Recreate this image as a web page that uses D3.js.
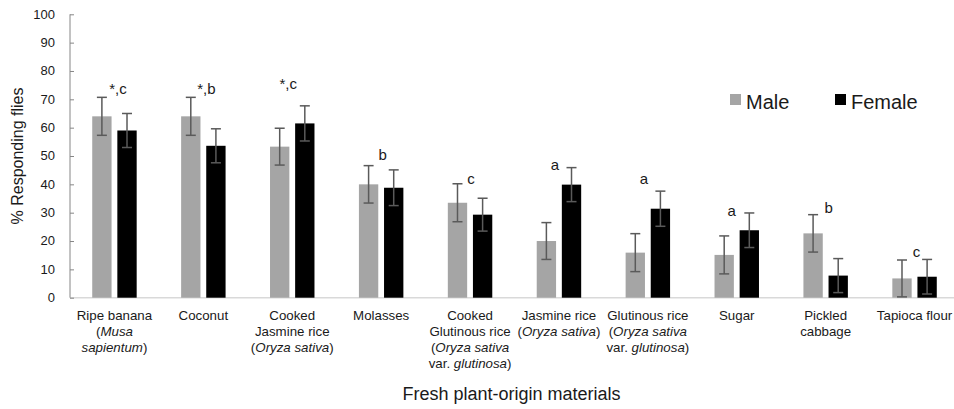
<!DOCTYPE html>
<html>
<head>
<meta charset="utf-8">
<script src="https://cdn.jsdelivr.net/npm/d3@7"></script>
<style>
  html, body { margin: 0; padding: 0; background: #fff; }
  svg { display: block; font-family: "Liberation Sans", Arial, sans-serif; }
</style>
</head>
<body>
<svg id="chart" width="954" height="409"></svg>
<script>
// Response of flies to fresh plant-origin materials (% responding, mean ± error)
const categories = [
  "Ripe banana", "Coconut", "Cooked Jasmine rice", "Molasses",
  "Cooked Glutinous rice", "Jasmine rice", "Glutinous rice",
  "Sugar", "Pickled cabbage", "Tapioca flour"
];
// Category labels, one entry per line; segments flagged true are set in italics
const categoryLines = [
  [[["Ripe banana", false]], [["(", false], ["Musa", true]], [["sapientum", true], [")", false]]],
  [[["Coconut", false]]],
  [[["Cooked", false]], [["Jasmine rice", false]], [["(", false], ["Oryza sativa", true], [")", false]]],
  [[["Molasses", false]]],
  [[["Cooked", false]], [["Glutinous rice", false]], [["(", false], ["Oryza sativa", true]], [["var. ", false], ["glutinosa", true], [")", false]]],
  [[["Jasmine rice", false]], [["(", false], ["Oryza sativa", true], [")", false]]],
  [[["Glutinous rice", false]], [["(", false], ["Oryza sativa", true]], [["var. ", false], ["glutinosa", true], [")", false]]],
  [[["Sugar", false]]],
  [[["Pickled", false]], [["cabbage", false]]],
  [[["Tapioca flour", false]]]
];
const seriesNames = ["Male", "Female"];
const maleValues   = [64.0, 64.0, 53.3, 40.0, 33.5, 20.0, 15.9, 15.1, 22.7, 6.8];
const maleErrors   = [6.7, 6.7, 6.5, 6.6, 6.7, 6.5, 6.7, 6.7, 6.6, 6.5];
const femaleValues = [59.0, 53.6, 61.5, 38.8, 29.3, 39.9, 31.4, 23.8, 7.8, 7.4];
const femaleErrors = [6.0, 6.0, 6.2, 6.3, 5.8, 6.0, 6.2, 6.1, 6.0, 6.1];
const significance = ["*,c", "*,b", "*,c", "b", "c", "a", "a", "a", "b", "c"];
const yTicks = [0, 10, 20, 30, 40, 50, 60, 70, 80, 90, 100];
const yTitle = "% Responding flies";
const xTitle = "Fresh plant-origin materials";

const svg = d3.select("#chart");
const plotLeft = 70, plotRight = 959, plotTop = 14.3, plotBottom = 297.7;

const x0 = d3.scaleBand().domain(categories).range([plotLeft, plotRight])
  .paddingInner(0.5).paddingOuter(0.25);
const x1 = d3.scaleBand().domain(seriesNames).range([0, x0.bandwidth()])
  .paddingInner(0.23);
const y = d3.scaleLinear().domain([0, 100]).range([plotBottom, plotTop]);

const colors = { Male: "#a5a5a5", Female: "#000000" };

// Category floor line
svg.append("line")
  .attr("x1", plotLeft).attr("x2", 954)
  .attr("y1", y(0)).attr("y2", y(0))
  .attr("stroke", "#d9d9d9").attr("stroke-width", 1.5);

// Value axis with inward ticks
const yAxis = svg.append("g").attr("transform", `translate(${plotLeft},0)`)
  .call(d3.axisRight(y).tickValues(yTicks).tickSize(4).tickFormat(""));
yAxis.select(".domain").attr("stroke", "#868686").attr("d", `M0,${y(100)}V${y(0)}`);
yAxis.selectAll(".tick line").attr("stroke", "#868686");

svg.append("g").selectAll("text").data(yTicks).join("text")
  .attr("x", 55).attr("y", d => y(d) + 1)
  .attr("text-anchor", "end").attr("dominant-baseline", "middle")
  .attr("font-size", 13).attr("fill", "#1a1a1a")
  .text(d => d);

// Bars
const rows = categories.map((c, i) => ({
  cat: c, i,
  series: [
    { name: "Male", value: maleValues[i], err: maleErrors[i] },
    { name: "Female", value: femaleValues[i], err: femaleErrors[i] }
  ]
}));

const groups = svg.append("g").selectAll("g").data(rows).join("g")
  .attr("transform", d => `translate(${x0(d.cat)},0)`);

groups.selectAll("rect").data(d => d.series).join("rect")
  .attr("x", d => x1(d.name))
  .attr("width", x1.bandwidth())
  .attr("y", d => y(d.value))
  .attr("height", d => y(0) - y(d.value))
  .attr("fill", d => colors[d.name]);

// Error bars
const capHalf = 5;
const eb = groups.selectAll("g.err").data(d => d.series).join("g").attr("class", "err")
  .attr("stroke", "#5a5a5a").attr("stroke-width", 1.5);
eb.append("line")
  .attr("x1", d => x1(d.name) + x1.bandwidth() / 2)
  .attr("x2", d => x1(d.name) + x1.bandwidth() / 2)
  .attr("y1", d => y(d.value + d.err)).attr("y2", d => y(Math.max(0, d.value - d.err)));
eb.append("line")
  .attr("x1", d => x1(d.name) + x1.bandwidth() / 2 - capHalf)
  .attr("x2", d => x1(d.name) + x1.bandwidth() / 2 + capHalf)
  .attr("y1", d => y(d.value + d.err)).attr("y2", d => y(d.value + d.err));
eb.append("line")
  .attr("x1", d => x1(d.name) + x1.bandwidth() / 2 - capHalf)
  .attr("x2", d => x1(d.name) + x1.bandwidth() / 2 + capHalf)
  .attr("y1", d => y(Math.max(0, d.value - d.err))).attr("y2", d => y(Math.max(0, d.value - d.err)));

// Significance letters, nudged around the taller error bar of each pair
const letterNudge = [[3.5, 3], [3, 3], [-4, 17], [1.5, 6], [1, 0], [-4, -2], [-4, 7], [-5, -3], [3, 2], [2, 2]];
svg.append("g").selectAll("text").data(rows).join("text")
  .attr("x", d => x0(d.cat) + x0.bandwidth() / 2 + letterNudge[d.i][0])
  .attr("y", d => y(d3.max(d.series, s => s.value + s.err)) - letterNudge[d.i][1])
  .attr("text-anchor", "middle").attr("font-size", 15).attr("fill", "#1a1a1a")
  .text(d => significance[d.i]);

// Category labels
const catLabels = svg.append("g").selectAll("text").data(rows).join("text")
  .attr("text-anchor", "middle").attr("font-size", 13.3).attr("fill", "#1a1a1a")
  .attr("x", d => x0(d.cat) + x0.bandwidth() / 2);
catLabels.each(function (d) {
  const t = d3.select(this);
  const cx = x0(d.cat) + x0.bandwidth() / 2;
  categoryLines[d.i].forEach((line, li) => {
    line.forEach((seg, si) => {
      const ts = t.append("tspan").text(seg[0])
        .attr("font-style", seg[1] ? "italic" : "normal");
      if (si === 0) ts.attr("x", cx).attr("y", 320 + li * 16);
    });
  });
});

// Axis titles
svg.append("text")
  .attr("transform", `translate(23,156) rotate(-90)`)
  .attr("text-anchor", "middle").attr("font-size", 16).attr("fill", "#1a1a1a")
  .text(yTitle);
svg.append("text")
  .attr("x", (plotLeft + plotRight) / 2 - 3).attr("y", 400)
  .attr("text-anchor", "middle").attr("font-size", 18).attr("fill", "#1a1a1a")
  .text(xTitle);

// Legend
const legendItems = [{ name: "Male", x: 730 }, { name: "Female", x: 835 }];
const lg = svg.append("g").selectAll("g").data(legendItems).join("g")
  .attr("transform", d => `translate(${d.x},94)`);
lg.append("rect").attr("width", 11).attr("height", 11).attr("fill", d => colors[d.name]);
lg.append("text").attr("x", 16).attr("y", 15).attr("font-size", 20).attr("fill", "#1a1a1a")
  .text(d => d.name);
</script>
</body>
</html>
